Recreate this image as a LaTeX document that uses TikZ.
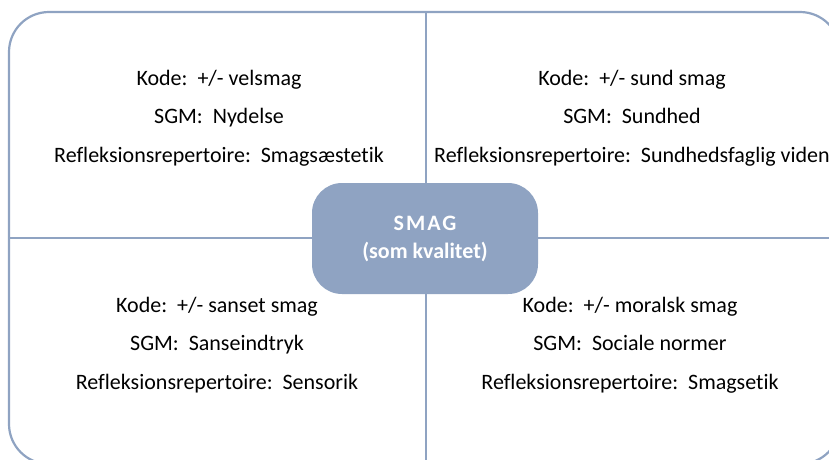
\documentclass[tikz,border=0pt]{standalone}
\usepackage{fontspec}
\setmainfont{Carlito}[Ligatures=NoCommon]
\definecolor{frame}{HTML}{8FA3C2}
\definecolor{boxfill}{HTML}{8FA3C2}
\tikzset{
  frameline/.style={draw=frame, line width=2.2pt},
  quadtext/.style={align=center, font=\fontsize{22}{38.5}\selectfont, text=black},
  centerbox/.style={fill=boxfill, rounded corners=30pt, minimum width=226pt, minimum height=111pt, text=white, align=center, font=\bfseries\fontsize{22}{28}\selectfont},
}
\begin{document}
\begin{tikzpicture}[x=1pt,y=-1pt]
\useasboundingbox (0,0) rectangle (829,459);
\begin{scope}
\clip (0,0) rectangle (829,459);
\draw[frameline, rounded corners=40pt] (9,12) rectangle (840,464);
\coordinate (top) at (426,12);
\coordinate (bot) at (426,464);
\coordinate (lft) at (9,238);
\coordinate (rgt) at (840,238);
\draw[frameline] (top) -- (bot);
\draw[frameline] (lft) -- (rgt);
\end{scope}
\node[centerbox] (c) at (425,238.5) {{\addfontfeatures{LetterSpace=9}SMAG}\\(som kvalitet)};
\node[quadtext] (tl) at (219,118) {Kode:\ \ +/- velsmag\\SGM:\ \ Nydelse\\Refleksionsrepertoire:\ \ Smagsæstetik};
\node[quadtext] (tr) at (632,118) {Kode:\ \ +/- sund smag\\SGM:\ \ Sundhed\\Refleksionsrepertoire:\ \ Sundhedsfaglig viden};
\node[quadtext] (bl) at (217,345) {Kode:\ \ +/- sanset smag\\SGM:\ \ Sanseindtryk\\Refleksionsrepertoire:\ \ Sensorik};
\node[quadtext] (br) at (630,345) {Kode:\ \ +/- moralsk smag\\SGM:\ \ Sociale normer\\Refleksionsrepertoire:\ \ Smagsetik};
\end{tikzpicture}
\end{document}
